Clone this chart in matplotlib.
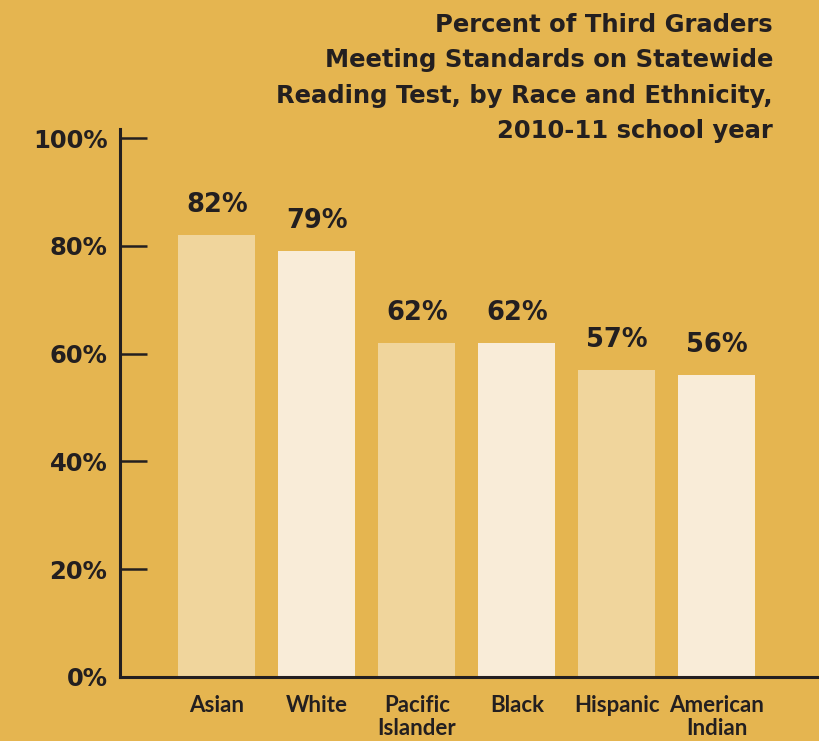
import matplotlib.pyplot as plt
import numpy as np

categories = ['Asian', 'White', 'Pacific\nIslander', 'Black', 'Hispanic', 'American\nIndian']
values = [82, 79, 62, 62, 57, 56]
yticks = [0, 20, 40, 60, 80, 100]
ytick_labels = ['0%', '20%', '40%', '60%', '80%', '100%']

bg = '#E5B550'
ink = '#231F20'
bar_colors = ['#F0D59C', '#F9ECD8'] * 3

fig = plt.figure(figsize=(8.2, 7.41), dpi=100, facecolor=bg)
ax = fig.add_axes([120 / 820, 64 / 741, 700 / 820, (677 - 129) / 741])
ax.set_facecolor(bg)

x = np.arange(len(categories))
bars = ax.bar(x, values, width=0.77, color=bar_colors, zorder=2)

ax.set_xlim(-0.97, 6.03)
ax.set_ylim(0, 101.7)

for s in ['top', 'right']:
    ax.spines[s].set_visible(False)
for s in ['left', 'bottom']:
    ax.spines[s].set_color(ink)
    ax.spines[s].set_linewidth(2.2)

ax.set_yticks(yticks)
ax.set_yticklabels(ytick_labels, fontsize=17.5, fontweight='bold', family='DejaVu Sans', color=ink)
ax.tick_params(axis='y', direction='in', length=19.5, width=1.8, color=ink, pad=9)

# narrow font for the category names
ax.set_xticks(x)
ax.set_xticklabels(categories, fontsize=16, fontweight='bold', family='Lato',
                   color=ink, linespacing=1.12, va='top')
ax.tick_params(axis='x', length=0, pad=13)

for bar, v in zip(bars, values):
    ax.text(bar.get_x() + bar.get_width() / 2, v + 3.2, f'{v}%',
            ha='center', va='bottom', fontsize=18.5, fontweight='bold',
            family='DejaVu Sans', color=ink)

fig.text(773 / 820, 1 - 13 / 741,
         'Percent of Third Graders\nMeeting Standards on Statewide\nReading Test, by Race and Ethnicity,\n2010-11 school year',
         ha='right', va='top', fontsize=17.5, fontweight='bold', family='DejaVu Sans',
         color=ink, linespacing=1.6)

fig.savefig('out.png', dpi=100, facecolor=bg)
